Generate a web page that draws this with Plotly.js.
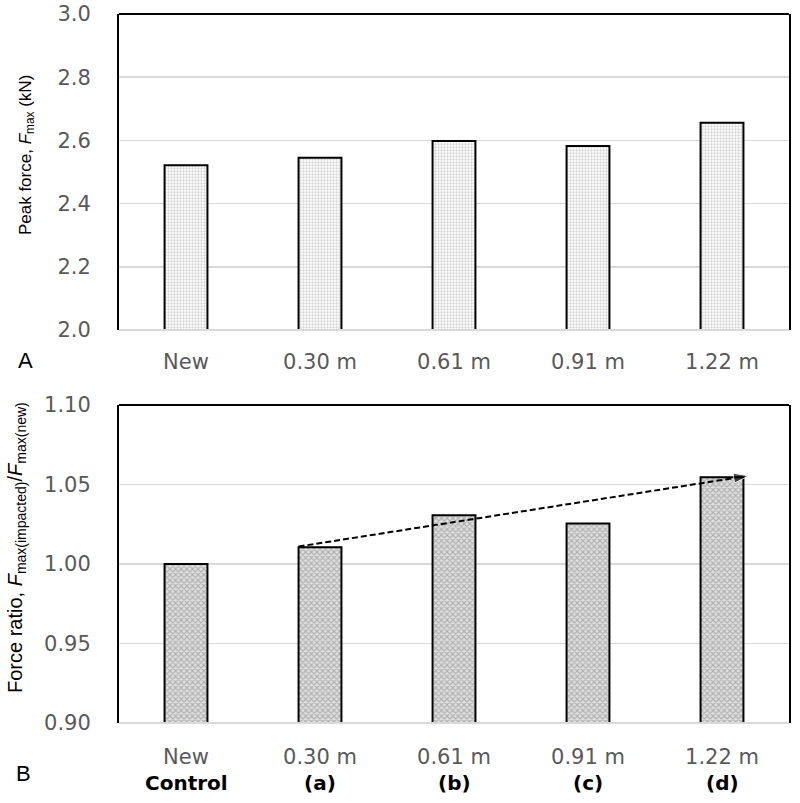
<!DOCTYPE html>
<html>
<head>
<meta charset="utf-8">
<script src="https://cdn.plot.ly/plotly-3.0.1.min.js"></script>
<style>html,body{margin:0;padding:0;background:#fff}#chart{width:800px;height:803px}</style>
</head>
<body>
<div id="chart"></div>
<script>
const categories = ["New", "0.30 m", "0.61 m", "0.91 m", "1.22 m"];
const groupLabels = ["Control", "(a)", "(b)", "(c)", "(d)"];
const peakForce = [2.521, 2.545, 2.598, 2.582, 2.656];
const forceRatio = [1.000, 1.0105, 1.0307, 1.0254, 1.0546];
const trendX = [0.84, 4.2];
const trendY = [1.011, 1.0555];
const xIdx = categories.map((_, i) => i);

const tickFont = {family: "DejaVu Sans, Verdana, sans-serif", size: 21, color: "#595959"};

const traces = [
  {
    type: "bar", x: xIdx, y: peakForce, xaxis: "x", yaxis: "y", width: 0.32,
    marker: {color: "#ffffff", line: {color: "#000", width: 2},
      pattern: {shape: ".", size: 3, solidity: 0.45, fgcolor: "#a8a8a8", bgcolor: "#ffffff", fillmode: "overlay"}},
    showlegend: false, hoverinfo: "skip"
  },
  {
    type: "bar", x: xIdx, y: forceRatio, xaxis: "x2", yaxis: "y2", width: 0.32,
    marker: {color: "#ffffff", line: {color: "#000", width: 2},
      pattern: {shape: "x", size: 4, solidity: 0.5, fgcolor: "#808080", bgcolor: "#e0e0e0", fillmode: "overlay"}},
    showlegend: false, hoverinfo: "skip"
  },
  {
    type: "scatter", mode: "lines+markers", x: trendX, y: trendY, xaxis: "x2", yaxis: "y2",
    line: {color: "#000", width: 2, dash: "6px,3px"},
    marker: {symbol: ["circle", "arrow"], size: [0, 16], color: "#000", angleref: "previous", standoff: 0},
    showlegend: false, hoverinfo: "skip", cliponaxis: false
  }
];

const xCommon = {
  range: [-0.5, 4.5], tickvals: xIdx, ticktext: categories, tickfont: tickFont,
  showgrid: false, zeroline: false, showline: false, ticks: "", fixedrange: true
};
const yCommon = {
  showgrid: true, gridcolor: "#d9d9d9", gridwidth: 1.5, zeroline: false,
  showline: true, linecolor: "#000", linewidth: 2, mirror: true, ticks: "",
  tickfont: tickFont, fixedrange: true, ticklabelstandoff: 22
};

const annotations = groupLabels.map((g, i) => ({
  text: "<b>" + g + "</b>", x: i, y: 0, xref: "x2", yref: "paper", yshift: -60,
  xanchor: "center", yanchor: "middle",
  showarrow: false, font: {family: "DejaVu Sans, Verdana, sans-serif", size: 20, color: "#000"}
}));
annotations.push(
  {text: "A", xref: "paper", yref: "paper", x: 0, xshift: -94, y: 0.5543, yshift: -30,
   xanchor: "center", yanchor: "middle",
   showarrow: false, font: {family: "Liberation Sans, Arial, sans-serif", size: 22, color: "#000"}},
  {text: "B", xref: "paper", yref: "paper", x: 0, xshift: -96, y: 0, yshift: -50,
   xanchor: "center", yanchor: "middle",
   showarrow: false, font: {family: "Liberation Sans, Arial, sans-serif", size: 22, color: "#000"}},
  {text: "Peak force, <i>F</i><sub>max</sub> (kN)", xref: "paper", yref: "paper",
   x: 0, xshift: -92, y: 0.801, xanchor: "center", yanchor: "middle", textangle: -90,
   showarrow: false, font: {family: "Liberation Sans, Arial, sans-serif", size: 17, color: "#000"}},
  {text: "Force ratio, <i>F</i><sub>max(impacted)</sub>/<i>F</i><sub>max(new)</sub>", xref: "paper", yref: "paper",
   x: 0, xshift: -103, y: 0.2468, xanchor: "center", yanchor: "middle", textangle: -90,
   showarrow: false, font: {family: "Liberation Sans, Arial, sans-serif", size: 20, color: "#000"}}
);

const layout = {
  width: 800, height: 803,
  margin: {l: 119, r: 11, t: 14, b: 80},
  paper_bgcolor: "#fff", plot_bgcolor: "#fff",
  xaxis: Object.assign({}, xCommon, {anchor: "y", domain: [0, 1], ticklabelstandoff: 17}),
  yaxis: Object.assign({}, yCommon, {
    anchor: "x", domain: [0.5543, 1], range: [2.0, 3.0], dtick: 0.2, tickformat: ".1f"
  }),
  xaxis2: Object.assign({}, xCommon, {anchor: "y2", domain: [0, 1], ticklabelstandoff: 19}),
  yaxis2: Object.assign({}, yCommon, {
    anchor: "x2", domain: [0, 0.4485], range: [0.9, 1.1], dtick: 0.05, tickformat: ".2f"
  }),
  shapes: [
    {type: "line", xref: "x domain", yref: "y domain", x0: 0, x1: 1, y0: 0, y1: 0, line: {color: "#d9d9d9", width: 2}},
    {type: "line", xref: "x2 domain", yref: "y2 domain", x0: 0, x1: 1, y0: 0, y1: 0, line: {color: "#d9d9d9", width: 2}},
    {type: "line", xref: "x domain", yref: "y domain", x0: 0, x1: 1, y0: 1, y1: 1, line: {color: "#000", width: 2}},
    {type: "line", xref: "x2 domain", yref: "y2 domain", x0: 0, x1: 1, y0: 1, y1: 1, line: {color: "#000", width: 2}}
  ],
  annotations: annotations
};

Plotly.newPlot("chart", traces, layout, {staticPlot: true, displayModeBar: false});
</script>
</body>
</html>
